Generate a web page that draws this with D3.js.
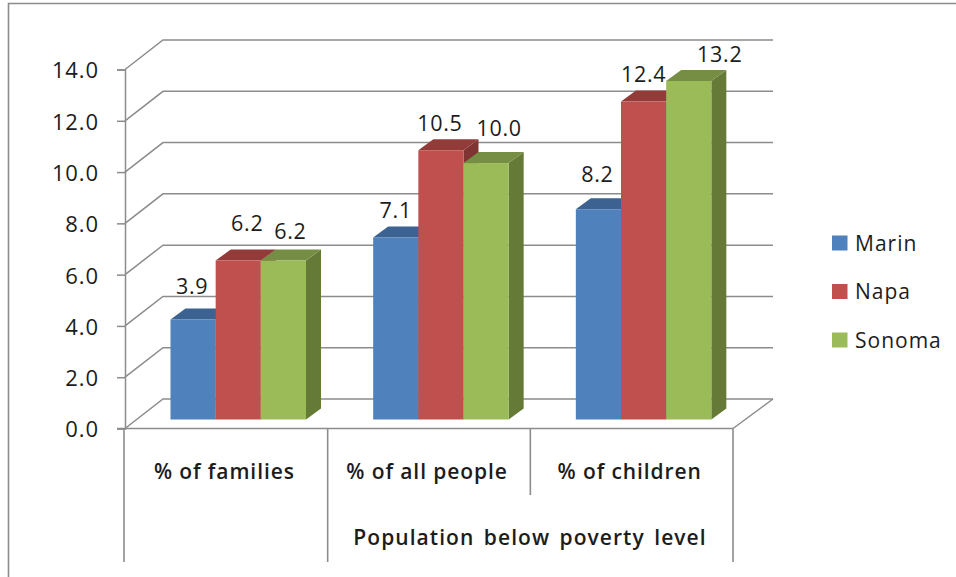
<!DOCTYPE html>
<html>
<head>
<meta charset="utf-8">
<script src="https://cdn.jsdelivr.net/npm/d3@7"></script>
<style>
  html, body { margin: 0; padding: 0; background: #fff; overflow: hidden; }
  svg { display: block; }
  text { font-family: "Open Sans", "Noto Sans", sans-serif; fill: #1c1c1c; }
</style>
</head>
<body>
<svg id="chart" width="956" height="577"></svg>
<script>
const categories = ["% of families", "% of all people", "% of children"];
const seriesNames = ["Marin", "Napa", "Sonoma"];
const marin = [3.9, 7.1, 8.2];
const napa = [6.2, 10.5, 12.4];
const sonoma = [6.2, 10.0, 13.2];
const yTicks = [0, 2, 4, 6, 8, 10, 12, 14];
const groupLabel = "Population below poverty level";

const seriesValues = [marin, napa, sonoma];
const front = ["#4f81bd", "#c0504d", "#9bbb59"];
const topFace = ["#3b6291", "#923b39", "#758e43"];
const sideFace = ["#355780", "#7f3432", "#667a37"];

const gridColor = "#8c8c8c";
const depthX = 38, depthY = 29.5;    // 背面墙相对前轴的偏移
const barDX = 15, barDY = 11;        // 柱子厚度
const baseDY = 9;                    // 柱底相对前轴抬高

// 数值标签的手动微调 [dx, dy]，每个系列一行
const labelNudge = [
    [[-8, -6], [-7, 0], [-8, -8]],
    [[2, -11], [-8, 0], [-7, -1]],
    [[0, -3], [6, -8], [24, 0]]
];

const svg = d3.select("#chart");

const x = d3.scaleBand().domain(categories).range([125, 733]);
const inner = d3.scaleBand().domain(seriesNames).range([45.5, 181]);
const y = d3.scaleLinear().domain([0, 14]).range([428.5, 69.5]);

// 外框
svg.append("path")
    .attr("d", "M8.5,577V3.5H956")
    .attr("fill", "none")
    .attr("stroke", gridColor)
    .attr("stroke-width", 1.6);

// 网格线：斜线 + 背面横线
const grid = svg.append("g")
    .attr("fill", "none")
    .attr("stroke", gridColor)
    .attr("stroke-width", 1.5);
yTicks.forEach(t => {
    grid.append("path")
        .attr("d", d3.line()([
            [x.range()[0], y(t)],
            [x.range()[0] + depthX, y(t) - depthY],
            [x.range()[1] + depthX + 2, y(t) - depthY]
        ]));
});
// 地板右侧斜线
grid.append("path")
    .attr("d", d3.line()([
        [x.range()[1], y(0)],
        [x.range()[1] + depthX + 2, y(0) - depthY]
    ]));

// y轴
const yAxis = svg.append("g")
    .attr("transform", "translate(125,0)")
    .call(d3.axisLeft(y).tickValues(yTicks).tickFormat(d3.format(".1f")).tickSize(8).tickPadding(18))
    .call(g => g.select(".domain").attr("stroke", gridColor).attr("stroke-width", 1.5))
    .call(g => g.selectAll(".tick line").attr("stroke", gridColor).attr("stroke-width", 1.5));
yAxis.selectAll("text")
    .attr("dy", "0.38em")
    .style("font-size", "22px")
    .style("letter-spacing", "0.9px");

// 分类轴的表格线
const axisLines = svg.append("g")
    .attr("stroke", gridColor)
    .attr("stroke-width", 1.6);
axisLines.append("line")
    .attr("x1", x.range()[0] - 8).attr("x2", x.range()[1])
    .attr("y1", y(0)).attr("y2", y(0));
axisLines.append("line")
    .attr("x1", 124).attr("x2", 124).attr("y1", y(0)).attr("y2", 562);
axisLines.append("line")
    .attr("x1", x(categories[1])).attr("x2", x(categories[1])).attr("y1", y(0)).attr("y2", 562);
axisLines.append("line")
    .attr("x1", x(categories[2])).attr("x2", x(categories[2])).attr("y1", y(0)).attr("y2", 495);
axisLines.append("line")
    .attr("x1", x.range()[1]).attr("x2", x.range()[1]).attr("y1", y(0)).attr("y2", 562);

// 柱子
categories.forEach((cat, c) => {
    seriesNames.forEach((name, s) => {
        const v = seriesValues[s][c];
        const x0 = x(cat) + inner(name);
        const x1 = x0 + inner.bandwidth();
        const top = y(v) - baseDY;
        const bottom = y(0) - baseDY;
        const g = svg.append("g");
        g.append("path")
            .attr("d", d3.line()([[x1, bottom], [x1, top], [x1 + barDX, top - barDY], [x1 + barDX, bottom - barDY]]))
            .attr("fill", sideFace[s]);
        g.append("path")
            .attr("d", d3.line()([[x0, top], [x0 + barDX, top - barDY], [x1 + barDX, top - barDY], [x1, top]]))
            .attr("fill", topFace[s]);
        g.append("rect")
            .attr("x", x0).attr("y", top)
            .attr("width", inner.bandwidth())
            .attr("height", bottom - top)
            .attr("fill", front[s]);
        svg.append("text")
            .attr("class", "val")
            .attr("x", x0 + inner.bandwidth() / 2 + 7 + labelNudge[s][c][0])
            .attr("y", top - 19 + labelNudge[s][c][1])
            .attr("text-anchor", "middle")
            .attr("font-size", "21.5px")
            .style("letter-spacing", "0.7px")
            .text(d3.format(".1f")(v));
    });
});
svg.selectAll("text.val").raise();

// 分类标签
svg.append("g").selectAll("text")
    .data(categories)
    .join("text")
    .attr("x", d => x(d) + x.bandwidth() / 2 - 2)
    .attr("y", 479)
    .attr("text-anchor", "middle")
    .attr("font-size", "21px")
    .attr("font-weight", 600)
    .style("letter-spacing", "0.9px")
    .text(d => d);

svg.append("text")
    .attr("x", 530)
    .attr("y", 545)
    .attr("text-anchor", "middle")
    .attr("font-size", "21px")
    .attr("font-weight", 600)
    .style("letter-spacing", "1.05px")
    .style("word-spacing", "3px")
    .text(groupLabel);

// 图例
const legendY = d3.scalePoint().domain(seriesNames).range([243, 340]);
const legend = svg.append("g").selectAll("g")
    .data(seriesNames)
    .join("g")
    .attr("transform", d => `translate(832,${legendY(d)})`);
legend.append("rect")
    .attr("y", -7.5)
    .attr("width", 15.5)
    .attr("height", 15)
    .attr("fill", (d, i) => front[i]);
legend.append("text")
    .attr("x", 23)
    .attr("y", 7.5)
    .attr("font-size", "21px")
    .style("letter-spacing", "1px")
    .text(d => d);
</script>
</body>
</html>
